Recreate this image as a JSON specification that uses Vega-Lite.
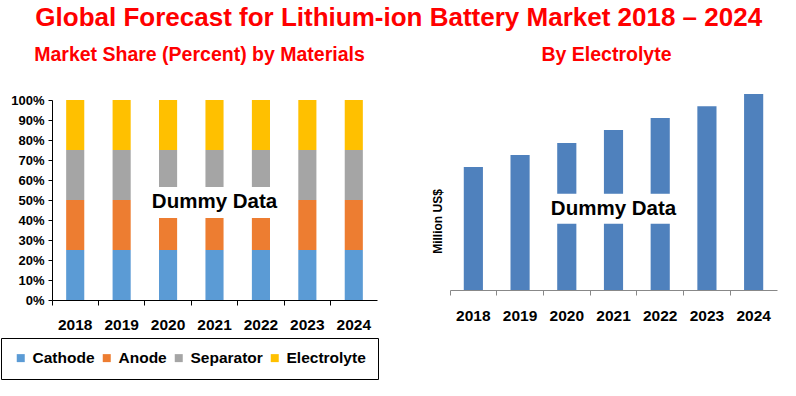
{
  "$schema": "https://vega.github.io/schema/vega-lite/v6.json",
  "background": "white",
  "padding": {"left": 0, "top": 4, "right": 5, "bottom": 5},
  "title": {"text": "Global Forecast for Lithium-ion Battery Market 2018 – 2024", "color": "#FF0000", "fontSize": 26, "font": "Liberation Sans", "fontWeight": "bold", "anchor": "middle", "offset": 14, "dx": 10},
  "config": {
    "font": "Liberation Sans",
    "view": {"stroke": null},
    "axis": {"labelFont": "Liberation Sans", "labelFontWeight": "bold", "labelColor": "black", "grid": false, "titleFont": "Liberation Sans"},
    "title": {"font": "Liberation Sans"}
  },
  "spacing": 54,
  "hconcat": [
    {
      "width": 325,
      "height": 200,
      "title": {"text": "Market Share (Percent) by Materials", "color": "#FF0000", "fontSize": 19.5, "fontWeight": "bold", "offset": 29, "dx": -15},
      "layer": [
        {
          "data": {"values": [
            {"year": "2018", "material": "Cathode", "ord": 1, "share": 0.25},
            {"year": "2018", "material": "Anode", "ord": 2, "share": 0.25},
            {"year": "2018", "material": "Separator", "ord": 3, "share": 0.25},
            {"year": "2018", "material": "Electrolyte", "ord": 4, "share": 0.25},
            {"year": "2019", "material": "Cathode", "ord": 1, "share": 0.25},
            {"year": "2019", "material": "Anode", "ord": 2, "share": 0.25},
            {"year": "2019", "material": "Separator", "ord": 3, "share": 0.25},
            {"year": "2019", "material": "Electrolyte", "ord": 4, "share": 0.25},
            {"year": "2020", "material": "Cathode", "ord": 1, "share": 0.25},
            {"year": "2020", "material": "Anode", "ord": 2, "share": 0.25},
            {"year": "2020", "material": "Separator", "ord": 3, "share": 0.25},
            {"year": "2020", "material": "Electrolyte", "ord": 4, "share": 0.25},
            {"year": "2021", "material": "Cathode", "ord": 1, "share": 0.25},
            {"year": "2021", "material": "Anode", "ord": 2, "share": 0.25},
            {"year": "2021", "material": "Separator", "ord": 3, "share": 0.25},
            {"year": "2021", "material": "Electrolyte", "ord": 4, "share": 0.25},
            {"year": "2022", "material": "Cathode", "ord": 1, "share": 0.25},
            {"year": "2022", "material": "Anode", "ord": 2, "share": 0.25},
            {"year": "2022", "material": "Separator", "ord": 3, "share": 0.25},
            {"year": "2022", "material": "Electrolyte", "ord": 4, "share": 0.25},
            {"year": "2023", "material": "Cathode", "ord": 1, "share": 0.25},
            {"year": "2023", "material": "Anode", "ord": 2, "share": 0.25},
            {"year": "2023", "material": "Separator", "ord": 3, "share": 0.25},
            {"year": "2023", "material": "Electrolyte", "ord": 4, "share": 0.25},
            {"year": "2024", "material": "Cathode", "ord": 1, "share": 0.25},
            {"year": "2024", "material": "Anode", "ord": 2, "share": 0.25},
            {"year": "2024", "material": "Separator", "ord": 3, "share": 0.25},
            {"year": "2024", "material": "Electrolyte", "ord": 4, "share": 0.25}
          ]},
          "mark": {"type": "bar", "width": {"band": 0.39}},
          "encoding": {
            "x": {"field": "year", "type": "ordinal", "scale": {"paddingInner": 0, "paddingOuter": 0},
                  "axis": {"title": null, "labelAngle": 0, "labelFontSize": 15.5, "labelPadding": 12, "bandPosition": 0, "tickSize": 5, "tickColor": "black", "domainColor": "black"}},
            "y": {"field": "share", "type": "quantitative", "stack": true, "scale": {"domain": [0, 1], "nice": false},
                  "axis": {"title": null, "format": ".0%", "values": [0, 0.1, 0.2, 0.3, 0.4, 0.5, 0.6, 0.7, 0.8, 0.9, 1], "labelOverlap": false, "labelFontSize": 13, "tickSize": 4, "tickColor": "black", "domainColor": "black", "labelPadding": 4}},
            "color": {"field": "material", "type": "nominal",
                      "scale": {"domain": ["Cathode", "Anode", "Separator", "Electrolyte"], "range": ["#5B9BD5", "#ED7D31", "#A5A5A5", "#FFC000"]},
                      "legend": {"title": null, "orient": "none", "legendX": -51, "legendY": 238, "direction": "horizontal", "strokeColor": "black", "padding": 12, "symbolType": "square", "symbolSize": 64, "labelFontSize": 15.5, "labelFontWeight": "bold", "labelColor": "black", "columnPadding": 4, "symbolStrokeWidth": 0, "labelOffset": 4}},
            "order": {"field": "ord"}
          }
        },
        {
          "data": {"values": [
            {"year": "2020", "lo": 0.41, "hi": 0.565},
            {"year": "2021", "lo": 0.41, "hi": 0.565},
            {"year": "2022", "lo": 0.41, "hi": 0.565}
          ]},
          "mark": {"type": "bar", "color": "white", "width": {"band": 0.45}},
          "encoding": {
            "x": {"field": "year", "type": "ordinal"},
            "y": {"field": "lo", "type": "quantitative",
                  "axis": {"title": null, "format": ".0%", "values": [0, 0.1, 0.2, 0.3, 0.4, 0.5, 0.6, 0.7, 0.8, 0.9, 1], "labelOverlap": false, "labelFontSize": 13, "tickSize": 4, "tickColor": "black", "domainColor": "black", "labelPadding": 4}},
            "y2": {"field": "hi"}
          }
        },
        {
          "data": {"values": [{"year": "2021", "pos": 0.49, "label": "Dummy Data"}]},
          "mark": {"type": "text", "fontSize": 20.5, "fontWeight": "bold", "color": "black", "baseline": "middle"},
          "encoding": {
            "x": {"field": "year", "type": "ordinal"},
            "y": {"field": "pos", "type": "quantitative",
                  "axis": {"title": null, "format": ".0%", "values": [0, 0.1, 0.2, 0.3, 0.4, 0.5, 0.6, 0.7, 0.8, 0.9, 1], "labelOverlap": false, "labelFontSize": 13, "tickSize": 4, "tickColor": "black", "domainColor": "black", "labelPadding": 4}},
            "text": {"field": "label"}
          }
        }
      ]
    },
    {
      "width": 327,
      "height": 190,
      "title": {"text": "By Electrolyte", "color": "#FF0000", "fontSize": 19.5, "fontWeight": "bold", "offset": 29, "dx": -7},
      "layer": [
        {
          "data": {"values": [
            {"year": "2018", "value": 62.7},
            {"year": "2019", "value": 68.9},
            {"year": "2020", "value": 75.0},
            {"year": "2021", "value": 81.6},
            {"year": "2022", "value": 87.7},
            {"year": "2023", "value": 93.8},
            {"year": "2024", "value": 100}
          ]},
          "mark": {"type": "bar", "color": "#4F81BD", "width": {"band": 0.41}},
          "encoding": {
            "x": {"field": "year", "type": "ordinal", "scale": {"paddingInner": 0, "paddingOuter": 0},
                  "axis": {"title": null, "labelAngle": 0, "labelFontSize": 15.5, "labelPadding": 13, "bandPosition": 0, "tickSize": 5, "tickColor": "#888888", "domainColor": "#888888"}},
            "y": {"field": "value", "type": "quantitative", "scale": {"domain": [0, 96.94], "nice": false},
                  "axis": {"title": "Million US$", "labels": false, "ticks": false, "domain": false, "titleFontSize": 12, "titleFontWeight": "bold", "titleColor": "black", "titleY": 121, "titlePadding": 6}}
          }
        },
        {
          "data": {"values": [
            {"year": "2020", "lo": 33.8, "hi": 49.1},
            {"year": "2021", "lo": 33.8, "hi": 49.1},
            {"year": "2022", "lo": 33.8, "hi": 49.1}
          ]},
          "mark": {"type": "bar", "color": "white", "width": {"band": 0.47}},
          "encoding": {
            "x": {"field": "year", "type": "ordinal"},
            "y": {"field": "lo", "type": "quantitative",
                  "axis": {"title": "Million US$", "labels": false, "ticks": false, "domain": false, "titleFontSize": 12, "titleFontWeight": "bold", "titleColor": "black", "titleY": 121, "titlePadding": 6}},
            "y2": {"field": "hi"}
          }
        },
        {
          "data": {"values": [{"year": "2021", "pos": 41.3, "label": "Dummy Data"}]},
          "mark": {"type": "text", "fontSize": 20.5, "fontWeight": "bold", "color": "black", "baseline": "middle"},
          "encoding": {
            "x": {"field": "year", "type": "ordinal"},
            "y": {"field": "pos", "type": "quantitative",
                  "axis": {"title": "Million US$", "labels": false, "ticks": false, "domain": false, "titleFontSize": 12, "titleFontWeight": "bold", "titleColor": "black", "titleY": 121, "titlePadding": 6}},
            "text": {"field": "label"}
          }
        }
      ]
    }
  ]
}
